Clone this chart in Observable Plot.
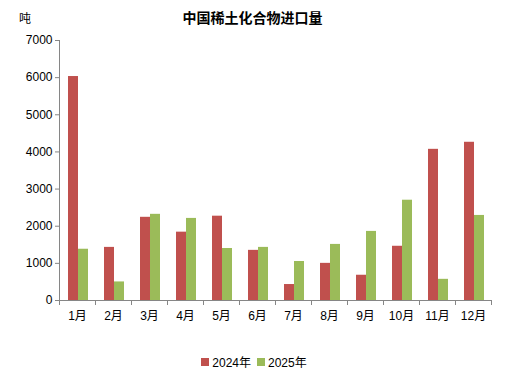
<!DOCTYPE html>
<html><head><meta charset="utf-8">
<script src="https://cdn.jsdelivr.net/npm/d3@7"></script>
<script src="https://cdn.jsdelivr.net/npm/@observablehq/plot@0.6"></script>
<style>
body{margin:0;background:#fff;font-family:"Liberation Sans","Noto Sans CJK SC",sans-serif;}
#wrap{position:relative;width:508px;height:383px;overflow:hidden}
#title{position:absolute;left:0;width:505px;top:10px;text-align:center;font-size:14px;line-height:16px;font-weight:bold;color:#000}
#unit{position:absolute;left:19px;top:9px;font-size:12px;color:#000}
#legend{position:absolute;left:0;width:508px;top:353px;display:flex;justify-content:center;align-items:center;font-size:12px;color:#000}
.sw{display:inline-block;width:8px;height:8px;margin-right:3px}
.it{display:flex;align-items:center;margin:0 3px}
svg{position:absolute;left:0;top:0}
</style></head>
<body><div id="wrap"><div id="unit">吨</div><div id="title">中国稀土化合物进口量</div><div id="legend"></div></div>
<script>
const months = ["1月","2月","3月","4月","5月","6月","7月","8月","9月","10月","11月","12月"];
const years = ["2024年","2025年"];
const v2024 = [6030,1430,2240,1840,2270,1350,430,1000,680,1460,4070,4260];
const v2025 = [1380,500,2320,2210,1400,1430,1050,1510,1860,2700,570,2290];
const yTicks = [0,1000,2000,3000,4000,5000,6000,7000];
const colors = ["#C0504D","#9BBB59"];
const axisGray = "#868686";

const d24 = months.map((m,i)=>({month:m, year:years[0], value:v2024[i]}));
const d25 = months.map((m,i)=>({month:m, year:years[1], value:v2025[i]}));

const chart = Plot.plot({
  width: 508, height: 383,
  marginTop: 40, marginBottom: 83, marginLeft: 59, marginRight: 17,
  style: {fontFamily: '"Liberation Sans","Noto Sans CJK SC",sans-serif', fontSize: "12px", color: "#000", background: "transparent"},
  x: {domain: months, padding: 0},
  y: {domain: [0,7000]},
  marks: [
    Plot.barY(d24, {x:"month", y:"value", fill: colors[0], insetLeft: 9, insetRight: 17}),
    Plot.barY(d25, {x:"month", y:"value", fill: colors[1], insetLeft: 19, insetRight: 7}),
    Plot.frame({anchor: "left", stroke: axisGray}),
    Plot.ruleY([0], {stroke: axisGray}),
    Plot.axisY({ticks: yTicks, tickSize: 4, tickPadding: 3, tickFormat: d => String(d), stroke: axisGray, fill: "#000", label: null, fontSize: 12}),
    Plot.axisX({tickSize: 0, tickPadding: 11, label: null, fill: "#000", fontSize: 12}),
    Plot.axisX({ticks: months, tickSize: 5, tickFormat: () => "", dx: -18, stroke: axisGray, label: null}),
    Plot.axisX({ticks: [months[11]], tickSize: 5, tickFormat: () => "", dx: 18, stroke: axisGray, label: null})
  ]
});
document.getElementById("wrap").prepend(chart);

const lg = document.getElementById("legend");
years.forEach((y,i)=>{
  const it = document.createElement("span"); it.className="it";
  it.innerHTML = `<span class="sw" style="background:${colors[i]}"></span><span>${y}</span>`;
  lg.appendChild(it);
});
</script>
</body></html>
